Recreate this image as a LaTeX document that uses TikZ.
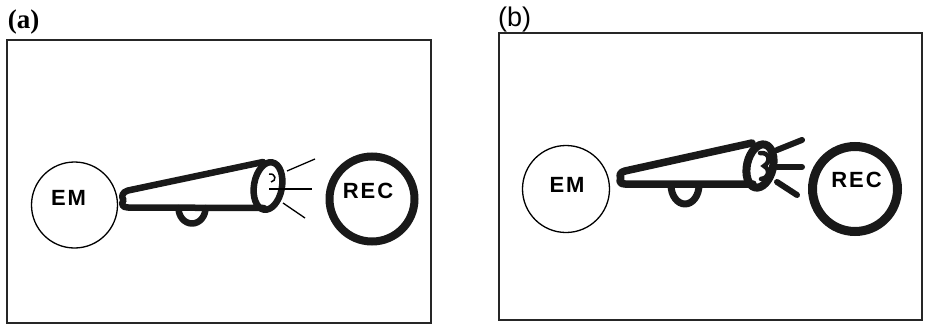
\documentclass[tikz,border=0pt]{standalone}
\usepackage{fontspec}
\setmainfont{Liberation Serif}
\newfontfamily\lblsans[LetterSpace=9]{Liberation Sans}
\newfontfamily\plainsans{Liberation Sans}
\begin{document}
\begin{tikzpicture}[x=1pt,y=-1pt,
  frame/.style={draw=black!85,line width=1.8pt},
  emcirc/.style={circle,draw=black,line width=1.3pt,inner sep=0pt,minimum size=86pt},
  reccirc/.style={circle,draw=black!90,inner sep=0pt,minimum size=85pt},
  lbl/.style={inner sep=0pt,font=\lblsans\bfseries\fontsize{22}{24}\selectfont},
  mega/.style={draw=black!90,line join=round,line cap=round},
  thinray/.style={draw=black,line width=1.3pt},
  thickray/.style={draw=black!90,line width=6pt,line cap=round},
  panel/.style={inner sep=0pt,font=\fontsize{27}{29}\selectfont}]
\useasboundingbox (0,0) rectangle (925,324);
% ---------------- panel (a) ----------------
\node[panel,font=\bfseries\fontsize{27}{29}\selectfont] (labA) at (23.5,22) {(a)};
\draw[frame] (7,40) rectangle (431,323);
\node[emcirc] (emA) at (74.5,205) {};
\node[lbl] (emAt) at (68.5,198) {EM};
\node[reccirc,line width=8pt] (recA) at (372,199) {};
\node[lbl] (recAt) at (368,190.5) {REC};
% megaphone (a)
\draw[mega,line width=6.5pt] (263,162) -- (128,190.5) .. controls (122,192) and (121,197) .. (123.5,200) .. controls (121,204) and (122,207.5) .. (128,207.5) -- (264,208);
\draw[mega,line width=6.5pt] (178.5,208) arc[start angle=180,end angle=360,x radius=13.5pt,y radius=15.5pt];
\draw[mega,line width=6.5pt,rotate around={-10:(268,186)}] (268,186) ellipse[x radius=14pt,y radius=24pt];
\draw[line width=1.5pt] (269,174) .. controls (276,173) and (277,181) .. (271,182);
\coordinate (a1s) at (287,171); \coordinate (a1e) at (315,159);
\coordinate (a2s) at (269,189); \coordinate (a2e) at (312,189);
\coordinate (a3s) at (283,203); \coordinate (a3e) at (305,218);
\draw[thinray] (a1s) -- (a1e);
\draw[thinray] (a2s) -- (a2e);
\draw[thinray] (a3s) -- (a3e);
% ---------------- panel (b) ----------------
\node[panel,font=\plainsans\fontsize{27}{29}\selectfont] (labB) at (514.5,20) {(b)};
\draw[frame] (499,33) rectangle (922,320);
\node[emcirc,minimum size=87pt] (emB) at (566,189) {};
\node[lbl] (emBt) at (567,185) {EM};
\node[reccirc,line width=9pt] (recB) at (855,189) {};
\node[lbl] (recBt) at (856.5,180) {REC};
% megaphone (b)
\draw[mega,line width=7.5pt] (752,143) -- (625,171) .. controls (620,172) and (619,176) .. (621,178) .. controls (619,181) and (620,184) .. (625,184) -- (753,184);
\draw[mega,line width=7pt] (671,185) arc[start angle=180,end angle=360,x radius=14pt,y radius=19pt];
\draw[mega,line width=8pt,rotate around={-13:(760,166)}] (760,166) ellipse[x radius=13pt,y radius=22pt];
\draw[black!90,line width=4.5pt,line cap=round] (760,153) .. controls (770,152) and (771,162) .. (764,166) .. controls (771,170) and (769,178) .. (761,179);
\coordinate (b1s) at (777,150); \coordinate (b1e) at (802,140);
\coordinate (b2s) at (777,167); \coordinate (b2e) at (802,167);
\coordinate (b3s) at (777,182); \coordinate (b3e) at (797,195);
\draw[thickray] (b1s) -- (b1e);
\draw[thickray] (b2s) -- (b2e);
\draw[thickray] (b3s) -- (b3e);
\end{tikzpicture}
\end{document}
